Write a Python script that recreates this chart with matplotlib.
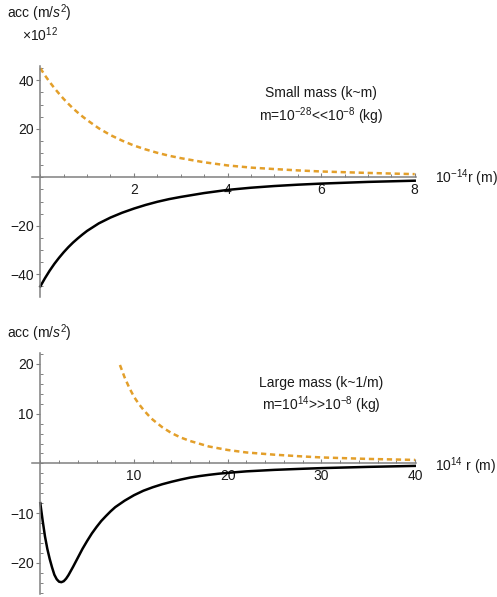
import matplotlib
matplotlib.use("Agg")
import matplotlib.pyplot as plt
from matplotlib.ticker import MultipleLocator, FixedLocator

plt.rcParams['font.family'] = ['Liberation Sans', 'DejaVu Sans']
plt.rcParams['mathtext.fontset'] = 'custom'
plt.rcParams['mathtext.rm'] = 'Liberation Sans'
plt.rcParams['mathtext.it'] = 'Liberation Sans:italic'
plt.rcParams['mathtext.bf'] = 'Liberation Sans:bold'
plt.rcParams['axes.unicode_minus'] = True

# ---------------- data ----------------
# Top panel: small mass, r in units of 1e-14 m, acc in units of 1e12 m/s^2
top_r = [0, 0.1, 0.2, 0.3, 0.4, 0.5, 0.6, 0.7, 0.8, 0.9, 1.0, 1.25, 1.5,
         1.75, 2.0, 2.25, 2.5, 2.75, 3.0, 3.5, 4.0, 4.5, 5.0, 5.5, 6.0, 7.0,
         8.0]
top_black = [-45.0, -41.6, -38.5, -35.7, -33.2, -30.9, -28.8, -26.9, -25.2,
             -23.6, -22.1, -19.0, -16.6, -14.6, -12.9, -11.4, -10.1, -9.0,
             -8.1, -6.5, -5.2, -4.3, -3.6, -3.05, -2.6, -1.9, -1.4]
top_orange = [45.0, 42.0, 39.3, 36.8, 34.5, 32.3, 30.3, 28.4, 26.7, 25.1,
              23.6, 20.2, 17.4, 15.1, 13.1, 11.5, 10.1, 8.9, 7.9, 6.2, 4.9,
              4.0, 3.4, 2.85, 2.4, 1.8, 1.3]

# Bottom panel: large mass, r in units of 1e14 m, acc in m/s^2
bot_black_r = [0, 0.25, 0.5, 0.75, 1.0, 1.25, 1.5, 1.75, 2.0, 2.25, 2.5,
               2.75, 3.0, 3.5, 4.0, 4.5, 5.0, 5.5, 6.0, 6.5, 7.0, 7.5, 8.0,
               9.0, 10, 11, 12, 13, 14, 15, 16, 17, 18, 19, 20, 22, 25, 28,
               30, 35, 40]
bot_black = [-8.0, -11.5, -14.7, -17.2, -19.2, -20.9, -22.4, -23.3, -23.8,
             -23.9, -23.7, -23.2, -22.5, -20.8, -19.0, -17.2, -15.6, -14.1,
             -12.8, -11.6, -10.6, -9.65, -8.8, -7.5, -6.4, -5.5, -4.8, -4.2,
             -3.7, -3.25, -2.85, -2.55, -2.3, -2.08, -1.9, -1.6, -1.3, -1.08,
             -0.95, -0.7, -0.5]
bot_orange_r = [8.5, 9.0, 9.5, 10, 10.5, 11, 11.5, 12, 13, 14, 15, 16, 18,
                20, 22, 25, 28, 30, 35, 40]
bot_orange = [19.8, 17.3, 15.2, 13.4, 12.0, 10.8, 9.75, 8.8, 7.3, 6.1, 5.2,
              4.5, 3.4, 2.7, 2.2, 1.75, 1.4, 1.2, 0.9, 0.7]

top_xticks = [2, 4, 6, 8]
top_yticks = [-40, -20, 20, 40]
bot_xticks = [10, 20, 30, 40]
bot_yticks = [-20, -10, 10, 20]

# ---------------- figure ----------------
W, H = 497, 597
fig = plt.figure(figsize=(W / 100, H / 100), dpi=100)

AXC = '#808080'
TXC = '#1a1a1a'
ORANGE = '#E39F2A'
FS = 10
LW = 1.8


def make_axes(x0px, sx, xlim, y0px, sy, ylim):
    left = x0px + xlim[0] * sx
    right = x0px + xlim[1] * sx
    top = y0px - ylim[1] * sy
    bottom = y0px - ylim[0] * sy
    ax = fig.add_axes([left / W, 1 - bottom / H, (right - left) / W,
                       (bottom - top) / H])
    ax.set_xlim(*xlim)
    ax.set_ylim(*ylim)
    ax.patch.set_alpha(0)
    for s in ('top', 'right'):
        ax.spines[s].set_visible(False)
    ax.spines['left'].set_position(('data', 0))
    ax.spines['bottom'].set_position(('data', 0))
    for s in ('left', 'bottom'):
        ax.spines[s].set_color(AXC)
        ax.spines[s].set_linewidth(1.1)
    ax.tick_params(axis='x', which='major', direction='in', length=3.2,
                   width=0.8, color=AXC, labelsize=FS, labelcolor=TXC, pad=4.0)
    ax.tick_params(axis='x', which='minor', direction='in', length=2.0,
                   width=0.7, color=AXC)
    ax.tick_params(axis='y', which='major', direction='out', length=3.2,
                   width=0.8, color=AXC, labelsize=FS, labelcolor=TXC, pad=1.6)
    ax.tick_params(axis='y', which='minor', direction='in', length=2.0,
                   width=0.7, color=AXC)
    return ax


# Top panel
ax1 = make_axes(40.3, 46.8, (-0.17, 8.03), 177.3, 2.425, (-49.2, 45.9))
ax1.plot(top_r, top_orange, color=ORANGE, lw=LW, ls=(0, (2.1, 1.5)),
         dash_capstyle='butt')
ax1.plot(top_r, top_black, color='black', lw=LW, solid_joinstyle='round')
ax1.xaxis.set_major_locator(FixedLocator(top_xticks))
ax1.xaxis.set_minor_locator(MultipleLocator(0.5))
ax1.yaxis.set_major_locator(FixedLocator(top_yticks))
ax1.yaxis.set_minor_locator(MultipleLocator(5))

# Bottom panel
ax2 = make_axes(40.3, 9.37, (-0.85, 40.05), 463.4, 4.97, (-26.3, 22.2))
ax2.plot(bot_orange_r, bot_orange, color=ORANGE, lw=LW, ls=(0, (2.1, 1.5)),
         dash_capstyle='butt')
ax2.plot(bot_black_r, bot_black, color='black', lw=LW, solid_joinstyle='round')
ax2.xaxis.set_major_locator(FixedLocator(bot_xticks))
ax2.xaxis.set_minor_locator(MultipleLocator(2))
ax2.yaxis.set_major_locator(FixedLocator(bot_yticks))
ax2.yaxis.set_minor_locator(MultipleLocator(2))


def ftext(x, y, s, ha='left'):
    fig.text(x / W, 1 - y / H, s, ha=ha, va='baseline', fontsize=FS,
             color=TXC)


ftext(7.0, 18.5, r'acc (m/$s^2$)')
ftext(21.5, 40.7, r'$\times$10$^{12}$')
ftext(321, 96.7, 'Small mass (k~m)', ha='center')
ftext(321, 121, r'm=10$^{-28}$<<10$^{-8}$ (kg)', ha='center')
ftext(435, 182.7, r'10$^{-14}$r (m)')

ftext(7.0, 338.3, r'acc (m/$s^2$)')
ftext(321.5, 386.7, 'Large mass (k~1/m)', ha='center')
ftext(321.5, 410, r'm=10$^{14}$>>10$^{-8}$ (kg)', ha='center')
ftext(435, 470.7, r'10$^{14}$ r (m)')

fig.savefig('out.png', dpi=100)
